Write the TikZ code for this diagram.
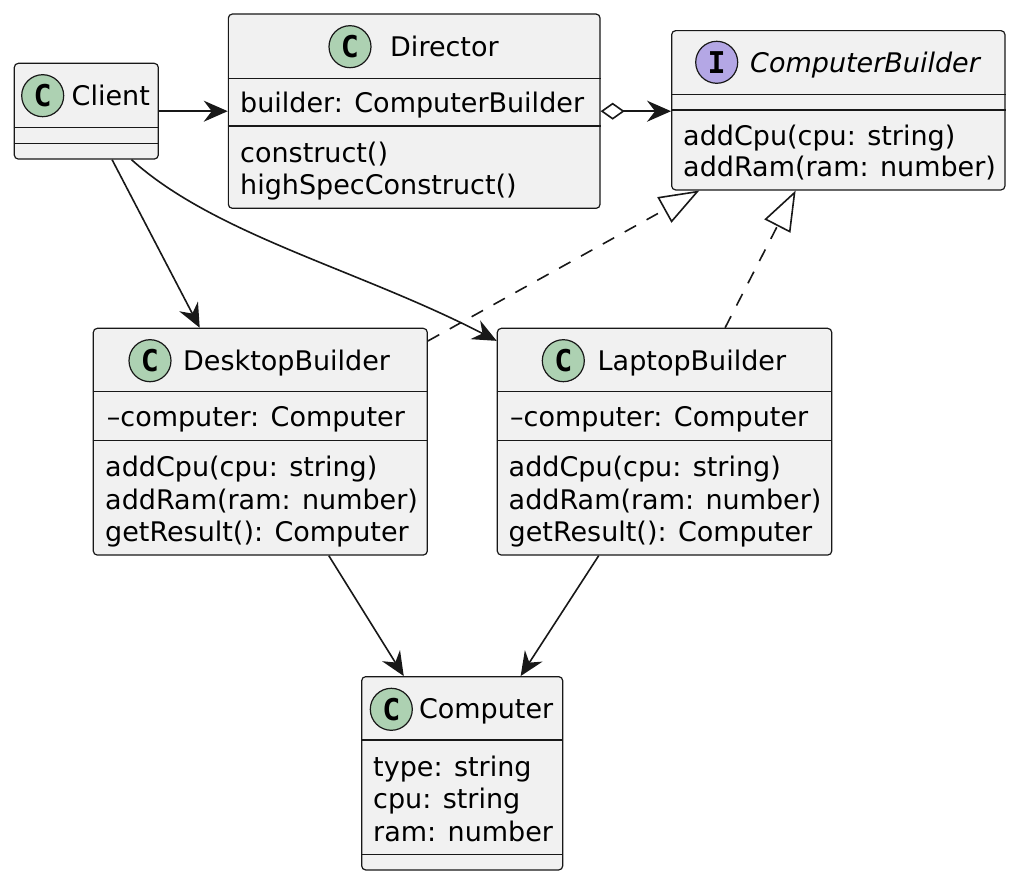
\documentclass[tikz,border=0pt]{standalone}
\usepackage{fontspec}
\setmainfont{DejaVu Sans}
\setmonofont{DejaVu Sans Mono}
\usetikzlibrary{arrows.meta}

\definecolor{boxfill}{HTML}{F1F1F1}
\definecolor{boxline}{HTML}{181818}
\definecolor{classspot}{HTML}{ADD1B2}
\definecolor{ifacespot}{HTML}{B4A7E5}

\begin{document}
\begin{tikzpicture}[x=1pt,y=-1pt,
  every node/.style={inner sep=0pt,font=\fontsize{27}{32}\selectfont},
  umlbox/.style={rectangle,draw=boxline,fill=boxfill,line width=1.2pt,rounded corners=4pt},
  spot/.style={circle,draw=boxline,line width=1.2pt,minimum size=42pt,
    font=\ttfamily\bfseries\fontsize{30}{30}\selectfont},
  txt/.style={anchor=base west},
  rule/.style={draw=boxline,line width=1.2pt},
  link/.style={draw=boxline,line width=1.6pt,-{Stealth[length=24pt,width=21pt,inset=8pt]}},
  aggr/.style={draw=boxline,line width=1.6pt,
    {Diamond[open,length=24pt,width=17pt]}-{Stealth[length=24pt,width=21pt,inset=8pt]}},
  realize/.style={draw=boxline,line width=1.6pt,dash pattern=on 13pt off 12pt,
    -{Triangle[open,length=40pt,width=29pt]}}]
\useasboundingbox[fill=white] (0,0) rectangle (1017,882);

% Client
\node[umlbox,minimum width=144pt,minimum height=95.7pt] (client) at (86.3,111.2) {};
\draw[rule] (client.west |- 0,127.3) -- (client.east |- 0,127.3);
\draw[rule] (client.west |- 0,143.3) -- (client.east |- 0,143.3);
\node[spot,fill=classspot] (clientspot) at (42.7,95.7) {C};
\node[txt] (clientname) at (71.5,105.5) {Client};

% Director
\node[umlbox,minimum width=371.7pt,minimum height=194.3pt] (director) at (414.2,111.2) {};
\draw[rule] (director.west |- 0,78.3) -- (director.east |- 0,78.3);
\draw[rule] (director.west |- 0,126) -- (director.east |- 0,126);
\node[spot,fill=classspot] (directorspot) at (350,46.7) {C};
\node[txt] (directorname) at (390,56.8) {Director};
\node[txt] (directorbuilder) at (240,113) {builder: ComputerBuilder};
\node[txt] (directorconstruct) at (240,162.3) {construct()};
\node[txt] (directorhigh) at (240,194.5) {highSpecConstruct()};

% ComputerBuilder
\node[umlbox,minimum width=333.3pt,minimum height=159.3pt] (builder) at (838.3,110.3) {};
\draw[rule] (builder.west |- 0,94.3) -- (builder.east |- 0,94.3);
\draw[rule] (builder.west |- 0,110) -- (builder.east |- 0,110);
\node[spot,fill=ifacespot] (builderspot) at (716.7,62.3) {I};
\node[txt,font=\fontsize{27}{32}\selectfont\itshape] (buildername) at (750,72.7) {ComputerBuilder};
\node[txt] (buildercpu) at (683,145.5) {addCpu(cpu: string)};
\node[txt] (builderram) at (683,177) {addRam(ram: number)};

% DesktopBuilder
\node[umlbox,minimum width=334pt,minimum height=226.7pt] (desktop) at (260.3,441.7) {};
\draw[rule] (desktop.west |- 0,391.7) -- (desktop.east |- 0,391.7);
\draw[rule] (desktop.west |- 0,440.7) -- (desktop.east |- 0,440.7);
\node[spot,fill=classspot] (desktopspot) at (150,360.7) {C};
\node[txt] (desktopname) at (183,370.5) {DesktopBuilder};
\node[txt] (desktopfield) at (106.7,426.7) {--computer: Computer};
\node[txt] (desktopcpu) at (105,476.7) {addCpu(cpu: string)};
\node[txt] (desktopram) at (105,509) {addRam(ram: number)};
\node[txt] (desktopresult) at (105,541.3) {getResult(): Computer};

% LaptopBuilder
\node[umlbox,minimum width=334.4pt,minimum height=226.7pt] (laptop) at (664.5,441.7) {};
\draw[rule] (laptop.west |- 0,391.7) -- (laptop.east |- 0,391.7);
\draw[rule] (laptop.west |- 0,440.7) -- (laptop.east |- 0,440.7);
\node[spot,fill=classspot] (laptopspot) at (563.3,360.7) {C};
\node[txt] (laptopname) at (597.5,370.5) {LaptopBuilder};
\node[txt] (laptopfield) at (510,426.7) {--computer: Computer};
\node[txt] (laptopcpu) at (508.5,476.7) {addCpu(cpu: string)};
\node[txt] (laptopram) at (508.5,509) {addRam(ram: number)};
\node[txt] (laptopresult) at (508.5,541.3) {getResult(): Computer};

% Computer
\node[umlbox,minimum width=201pt,minimum height=193.3pt] (computer) at (462.2,773.3) {};
\draw[rule] (computer.west |- 0,740) -- (computer.east |- 0,740);
\draw[rule] (computer.west |- 0,854.3) -- (computer.east |- 0,854.3);
\node[spot,fill=classspot] (computerspot) at (391.3,709.3) {C};
\node[txt] (computername) at (418.8,718.4) {Computer};
\node[txt] (computertype) at (373,776.4) {type: string};
\node[txt] (computercpu) at (373,808.7) {cpu: string};
\node[txt] (computerram) at (373,841) {ram: number};

% relations
\draw[link] (client.east) -- (director.west |- client.east);
\draw[aggr] (director.east) -- (builder.west |- director.east);
\draw[link] (client.-62) -- (desktop.118);
\draw[link] (client.-47) .. controls (215,235) and (360,270) .. (laptop.149.5);
\draw[realize] (desktop.31) -- (builder.-150);
\draw[realize] (laptop.62.4) -- (builder.-118);
\draw[link] (desktop.-59.1) -- (computer.121.9);
\draw[link] (laptop.-120.9) -- (computer.59.1);
\end{tikzpicture}
\end{document}
